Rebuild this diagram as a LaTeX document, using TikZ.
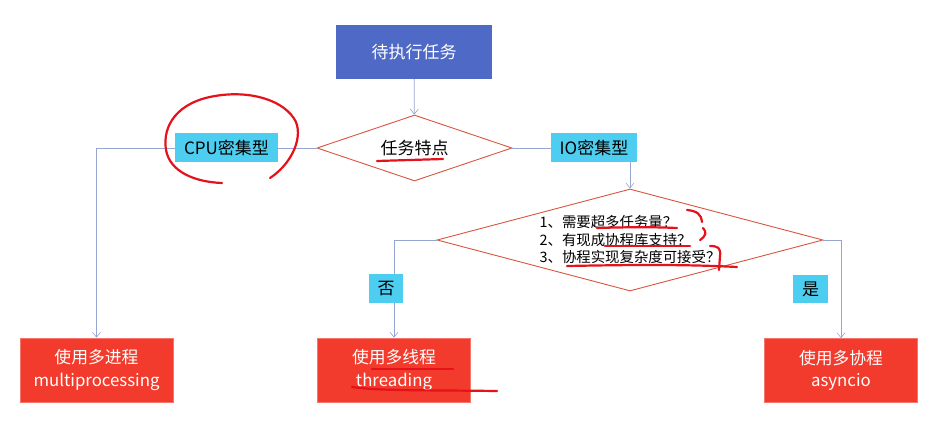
\documentclass[tikz,border=0pt]{standalone}
\usepackage{fontspec}
\setmainfont{Noto Sans CJK SC}
\usetikzlibrary{shapes.geometric,arrows.meta}
\definecolor{topblue}{HTML}{4F69C6}
\definecolor{labcyan}{HTML}{4DCDEF}
\definecolor{boxred}{HTML}{F23B2C}
\definecolor{connc}{HTML}{97A5D1}
\definecolor{diac}{HTML}{D9553F}
\definecolor{pen}{HTML}{E5121B}
\tikzset{
  topbox/.style={rectangle, fill=topblue, text=white, minimum width=156pt, minimum height=54pt, inner sep=0pt, font=\fontsize{17}{20}\selectfont},
  resbox/.style={rectangle, fill=boxred, draw=boxred!70!white, line width=0.6pt, text=white, minimum width=153pt, minimum height=64pt, inner sep=0pt, align=center, font=\fontsize{16.8}{22.5}\selectfont},
  decision/.style={diamond, draw=diac, line width=0.9pt, inner sep=0pt, text=black},
  lab/.style={rectangle, fill=labcyan, text=black, inner sep=0pt, font=\fontsize{17}{20}\selectfont},
  conn/.style={draw=connc, line width=0.8pt, -{Straight Barb[length=5pt,width=8pt,line width=0.6pt]}},
  penline/.style={draw=pen, line width=2.2pt, line cap=round, line join=round},
}
\begin{document}
\begin{tikzpicture}[x=1pt,y=-1pt]
\useasboundingbox[fill=white] (0,0) rectangle (939,422);

\node[topbox] (start) at (414,52) {待执行任务};
\node[decision, aspect=2.95, minimum width=195pt, minimum height=66pt, font=\fontsize{17}{20}\selectfont] (d1) at (414.5,148) {任务特点};
\node[decision, aspect=3.78, minimum width=386pt, minimum height=102pt, align=left, font=\fontsize{14.4}{17.5}\selectfont] (d2) at (630,240) {1、需要超多任务量？\\2、有现成协程库支持？\\3、协程实现复杂度可接受？};

\node[resbox] (mp) at (96.5,370) {使用多进程\\multiprocessing};
\node[resbox] (thr) at (394,370) {使用多线程\\threading};
\node[resbox] (asy) at (841,370.5) {使用多协程\\asyncio};

\draw[conn] (start) -- (d1);
\draw[conn] (d1.west) -| (mp.north);
\draw[conn] (d1.east) -| (d2.north);
\draw[conn] (d2.west) -| (thr.north);
\draw[conn] (d2.east) -| (asy.north);

\node[lab, minimum width=103pt, minimum height=29pt] (cpu) at (226.5,147.5) {CPU密集型};
\node[lab, minimum width=86pt, minimum height=29pt] (io) at (594,147.5) {IO密集型};
\node[lab, minimum width=34pt, minimum height=29pt] (no) at (386,288.5) {否};
\node[lab, minimum width=35pt, minimum height=28pt] (yes) at (810.5,289) {是};

% hand-drawn annotations
\draw[penline] (222,183) .. controls (195,182) and (170,172) .. (166,150)
  .. controls (162,125) and (178,102) .. (215,96)
  .. controls (250,90) and (285,100) .. (296,122)
  .. controls (303,140) and (290,165) .. (270,178);
\draw[penline] (377,161) -- (443,159);
\draw[penline] (597,228) .. controls (630,227) and (655,227) .. (677,228);
\draw[penline] (687,210) .. controls (697,211) and (701,214) .. (702,222);
\draw[penline] (703,228) .. controls (707,232) and (706,236) .. (700,240);
\draw[penline] (605,246) -- (690,246);
\draw[penline] (567,266) .. controls (620,265) and (680,264) .. (737,267);
\draw[penline] (710,246) .. controls (718,246) and (721,248) .. (720,256) -- (719,270);
\draw[penline] (372,369) -- (453,369);
\draw[penline] (352,387) .. controls (380,391) and (420,390) .. (497,391);
\end{tikzpicture}
\end{document}
